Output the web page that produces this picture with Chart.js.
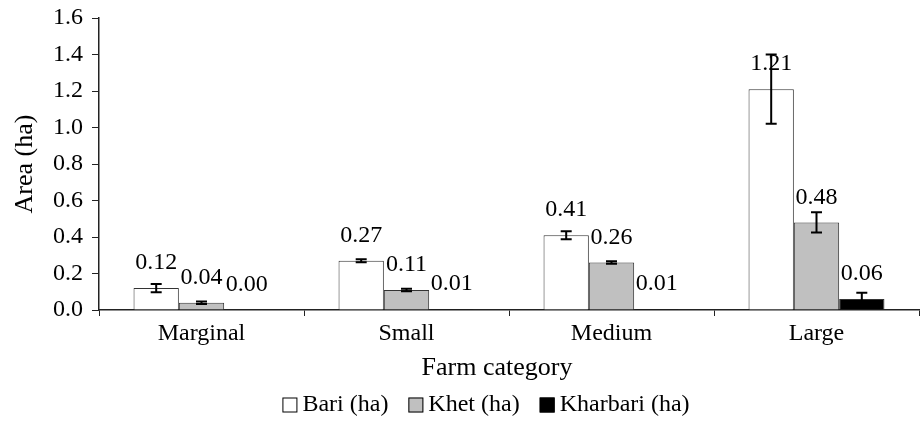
<!DOCTYPE html>
<html>
<head>
<meta charset="utf-8">
<script src="https://cdn.jsdelivr.net/npm/chart.js@4.4.1/dist/chart.umd.min.js"></script>
<style>
  html, body { margin: 0; padding: 0; background: #fff; }
  #wrap { width: 923px; height: 421px; }
</style>
</head>
<body>
<div id="wrap"><canvas id="farmChart" width="923" height="421"></canvas></div>
<script>
const categories = ["Marginal", "Small", "Medium", "Large"];
const bariArea = [0.12, 0.27, 0.41, 1.21];
const khetArea = [0.04, 0.11, 0.26, 0.48];
const kharbariArea = [0.00, 0.006, 0.006, 0.06];
const bariErr = [0.023, 0.008, 0.022, 0.19];
const khetErr = [0.007, 0.007, 0.007, 0.055];
const kharbariErr = [0, 0, 0, 0.035];
const yTicks = [0, 0.2, 0.4, 0.6, 0.8, 1.0, 1.2, 1.4, 1.6];

const serif = "'Liberation Serif', 'Times New Roman', serif";
const ink = "#222";

// error bars + value labels on top of each bar
const barExtras = {
    id: "barExtras",
    afterDatasetsDraw(chart) {
        const ctx = chart.ctx;
        const y = chart.scales.y;
        ctx.save();
        chart.data.datasets.forEach((ds, i) => {
            const meta = chart.getDatasetMeta(i);
            meta.data.forEach((bar, j) => {
                const v = ds.data[j];
                const e = ds.errors[j];
                if (e > 0) {
                    const top = y.getPixelForValue(v + e);
                    const bot = y.getPixelForValue(v - e);
                    ctx.strokeStyle = "#000";
                    ctx.lineWidth = 2;
                    ctx.beginPath();
                    ctx.moveTo(bar.x, top);
                    ctx.lineTo(bar.x, bot);
                    ctx.moveTo(bar.x - 5.5, top);
                    ctx.lineTo(bar.x + 5.5, top);
                    ctx.moveTo(bar.x - 5.5, bot);
                    ctx.lineTo(bar.x + 5.5, bot);
                    ctx.stroke();
                }
                ctx.fillStyle = "#000";
                ctx.font = "24px " + serif;
                ctx.textAlign = "center";
                ctx.textBaseline = "middle";
                ctx.fillText(v.toFixed(2), bar.x, bar.y - 25);
            });
        });
        ctx.restore();
    },
    afterDraw(chart) {
        const ctx = chart.ctx;
        ctx.save();
        ctx.fillStyle = "#000";
        ctx.textBaseline = "middle";
        ctx.textAlign = "center";
        ctx.font = "26px " + serif;
        ctx.fillText("Farm category", 497, 368);

        // legend
        ctx.font = "24px " + serif;
        ctx.textAlign = "left";
        const items = chart.data.datasets;
        const box = 15, gapBox = 5, gapItem = 20;
        let total = 0;
        items.forEach((d, i) => {
            total += box + gapBox + ctx.measureText(d.label).width;
            if (i < items.length - 1) total += gapItem;
        });
        let x = 486 - total / 2;
        const ly = 405;
        items.forEach(d => {
            ctx.fillStyle = d.backgroundColor;
            ctx.fillRect(x, ly - box / 2, box, box);
            ctx.strokeStyle = "#000";
            ctx.lineWidth = 1;
            ctx.strokeRect(x + 0.5, ly - box / 2 + 0.5, box - 1, box - 1);
            x += box + gapBox;
            ctx.fillStyle = "#000";
            ctx.fillText(d.label, x, ly);
            x += ctx.measureText(d.label).width + gapItem;
        });
        ctx.restore();
    }
};

new Chart(document.getElementById("farmChart"), {
    type: "bar",
    data: {
        labels: categories,
        datasets: [
            { label: "Bari (ha)", data: bariArea, errors: bariErr, backgroundColor: "#ffffff" },
            { label: "Khet (ha)", data: khetArea, errors: khetErr, backgroundColor: "#c0c0c0" },
            { label: "Kharbari (ha)", data: kharbariArea, errors: kharbariErr, backgroundColor: "#000000" }
        ]
    },
    options: {
        responsive: false,
        animation: false,
        devicePixelRatio: 1,
        layout: { padding: { top: 18, right: 4, bottom: 36, left: 0 } },
        datasets: {
            bar: {
                borderColor: "#333",
                borderWidth: 1,
                borderSkipped: "start",
                barPercentage: 1,
                categoryPercentage: 0.663
            }
        },
        plugins: {
            legend: { display: false },
            tooltip: { enabled: false }
        },
        scales: {
            x: {
                grid: { drawOnChartArea: false, drawTicks: true, tickLength: 6, color: ink, offset: true },
                border: { display: true, color: ink, width: 1.5 },
                ticks: { color: "#000", font: { family: serif, size: 24 }, padding: 3, maxRotation: 0 },
                afterFit: s => { s.height = 75; }
            },
            y: {
                min: 0,
                max: 1.6,
                afterBuildTicks: s => { s.ticks = yTicks.map(v => ({ value: v })); },
                grid: { drawOnChartArea: false, drawTicks: true, tickLength: 7, color: ink },
                border: { display: true, color: ink, width: 1.5 },
                ticks: { color: "#000", font: { family: serif, size: 24 }, padding: 9, callback: v => v.toFixed(1) },
                title: { display: true, text: "Area (ha)", color: "#000", font: { family: serif, size: 26 }, padding: { top: 10, bottom: 0 } },
                afterFit: s => { s.width = 99; s.paddingTop = 0; s.paddingBottom = 0; }
            }
        }
    },
    plugins: [barExtras]
});
</script>
</body>
</html>
